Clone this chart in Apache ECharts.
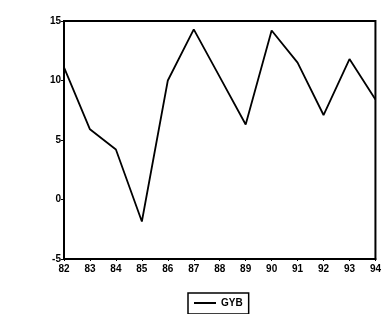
<!DOCTYPE html>
<html>
<head>
<meta charset="utf-8">
<script src="https://cdn.jsdelivr.net/npm/echarts@6/dist/echarts.min.js"></script>
<style>
  html, body { margin: 0; padding: 0; background: #fff; }
  #chart { width: 384px; height: 314px; }
</style>
</head>
<body>
<div id="chart"></div>
<script>
// years on the x axis
var years = ['82', '83', '84', '85', '86', '87', '88', '89', '90', '91', '92', '93', '94'];
// GYB series
var gyb = [11.1, 5.9, 4.2, -1.85, 10.0, 14.3, 10.3, 6.3, 14.2, 11.5, 7.1, 11.8, 8.4];
var yTicks = { min: -5, max: 15, step: 5 };

var chart = echarts.init(document.getElementById('chart'));
var labelFont = {
    color: '#000',
    fontFamily: 'Liberation Sans',
    fontWeight: 'bold',
    fontSize: 10
};

chart.setOption({
    animation: false,
    backgroundColor: '#fff',
    grid: {
        left: 64, right: 6, top: 21, bottom: 55,
        show: true,
        borderColor: '#000',
        borderWidth: 2
    },
    legend: {
        data: ['GYB'],
        left: 188,
        top: 293,
        itemWidth: 22,
        itemHeight: 10,
        itemGap: 4,
        padding: [5, 6, 6, 6],
        borderColor: '#000',
        borderWidth: 1.5,
        icon: 'path://M0,4 L22,4 L22,6 L0,6 Z',
        textStyle: labelFont
    },
    xAxis: {
        type: 'category',
        data: years,
        boundaryGap: false,
        axisLine: { onZero: false, lineStyle: { color: '#000', width: 2 } },
        axisTick: { show: true, length: 2, lineStyle: { color: '#000' } },
        axisLabel: Object.assign({ margin: 5 }, labelFont),
        splitLine: { show: false }
    },
    yAxis: {
        type: 'value',
        min: yTicks.min,
        max: yTicks.max,
        interval: yTicks.step,
        axisLine: { show: true, lineStyle: { color: '#000', width: 2 } },
        axisTick: { show: true, length: 3, lineStyle: { color: '#000' } },
        axisLabel: Object.assign({ margin: 3 }, labelFont),
        splitLine: { show: false }
    },
    series: [{
        name: 'GYB',
        type: 'line',
        data: gyb,
        symbol: 'none',
        lineStyle: { color: '#000', width: 1.8 },
        itemStyle: { color: '#000' }
    }]
});
</script>
</body>
</html>
